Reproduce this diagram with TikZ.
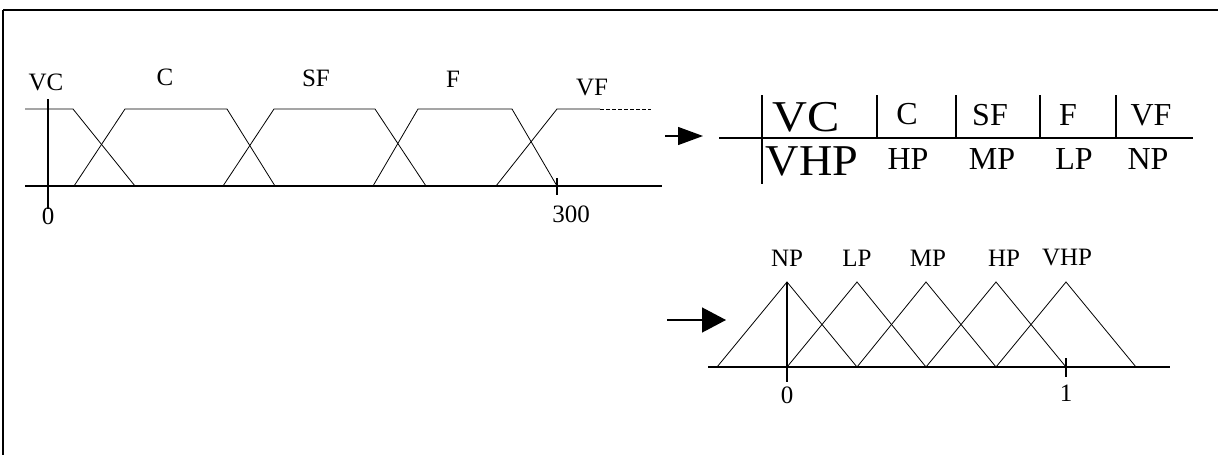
\documentclass[tikz,border=0pt]{standalone}
\usepackage{fontspec}
\setmainfont{Liberation Serif}
\usetikzlibrary{arrows.meta}
\begin{document}
\begin{tikzpicture}[x=1pt,y=-1pt,
  curve/.style={line width=0.8pt},
  axis/.style={line width=1.1pt},
  lbl/.style={inner sep=0pt,font=\fontsize{25}{29}\selectfont},
  plbl/.style={inner sep=0pt,font=\fontsize{25}{29}\selectfont},
  tlbl/.style={inner sep=0pt,font=\fontsize{32}{37}\selectfont},
  rule/.style={line width=1.3pt},
]
\useasboundingbox (0,0) rectangle (1218,455);
% frame
\draw[line width=2.5pt] (3,10) -- (1218,10);
\draw[line width=2pt] (3,10) -- (3,455);

% ---- left plot ----
\draw[axis] (25,186) -- (662,186);
\draw[axis] (48,99) -- (48,209);
\draw[curve] (25,109) -- (73,109) -- (135,186);
\draw[curve] (74,186) -- (125,109) -- (227,109) -- (275,186);
\draw[curve] (223,186) -- (274,109) -- (375,109) -- (426,186);
\draw[curve] (373,186) -- (418,109) -- (512,109) -- (557,186);
\draw[curve] (496,186) -- (557,109) -- (600,109);
\draw[curve,dash pattern=on 4pt off 2pt] (600,109) -- (651,109);
\draw[axis] (557,178) -- (557,195);
\node[lbl] (lvc) at (46,82) {VC};
\node[lbl] (lc) at (165,77) {C};
\node[lbl] (lsf) at (316,78) {SF};
\node[lbl] (lf) at (453,79) {F};
\node[lbl] (lvf) at (592,88) {VF};
\node[lbl] (l0) at (48,216) {0};
\node[lbl] (l300) at (571,214) {300};

% ---- table ----
\coordinate (a1s) at (665,136);
\coordinate (a1e) at (703,136);
\draw[line width=1.3pt,-{Triangle[length=25pt,width=18pt]}] (a1s) -- (a1e);
\draw[rule] (719,138) -- (1193,138);
\draw[rule] (762,95) -- (762,184);
\draw[rule] (877,95) -- (877,138);
\draw[rule] (956,95) -- (956,138);
\draw[rule] (1040,95) -- (1040,138);
\draw[rule] (1116,95) -- (1116,138);
\node[inner sep=0pt,font=\fontsize{44}{50}\selectfont,xscale=1.1] (tvc) at (806,117) {VC};
\node[tlbl] (tc) at (907,114) {C};
\node[tlbl] (tsf) at (990,115) {SF};
\node[tlbl] (tf) at (1068,115) {F};
\node[tlbl] (tvf) at (1151,115) {VF};
\node[inner sep=0pt,font=\fontsize{44}{50}\selectfont,xscale=1.05] (tvhp) at (812,161) {VHP};
\node[tlbl] (thp) at (908,159) {HP};
\node[tlbl] (tmp) at (992,159) {MP};
\node[tlbl] (tlp) at (1074,159) {LP};
\node[tlbl] (tnp) at (1148,159) {NP};

% ---- bottom plot ----
\coordinate (a2s) at (667,320);
\coordinate (a2e) at (726,320);
\draw[line width=1.3pt,-{Triangle[length=24pt,width=25pt]}] (a2s) -- (a2e);
\draw[axis] (708,367) -- (1170,367);
\draw[axis] (787,282) -- (787,382);
\draw[axis] (1066,358) -- (1066,377);
\draw[curve] (717,367) -- (787,282) -- (857,367);
\draw[curve] (787,367) -- (857,282) -- (926,367);
\draw[curve] (857,367) -- (926,282) -- (996,367);
\draw[curve] (926,367) -- (996,282) -- (1066,367);
\draw[curve] (996,367) -- (1066,282) -- (1136,367);
\node[plbl] (bnp) at (787,258) {NP};
\node[plbl] (blp) at (857,258) {LP};
\node[plbl] (bmp) at (928,258) {MP};
\node[plbl] (bhp) at (1004,258) {HP};
\node[plbl] (bvhp) at (1067,258) {VHP};
\node[lbl] (b0) at (787,395) {0};
\node[lbl] (b1) at (1066,393) {1};
\end{tikzpicture}
\end{document}
